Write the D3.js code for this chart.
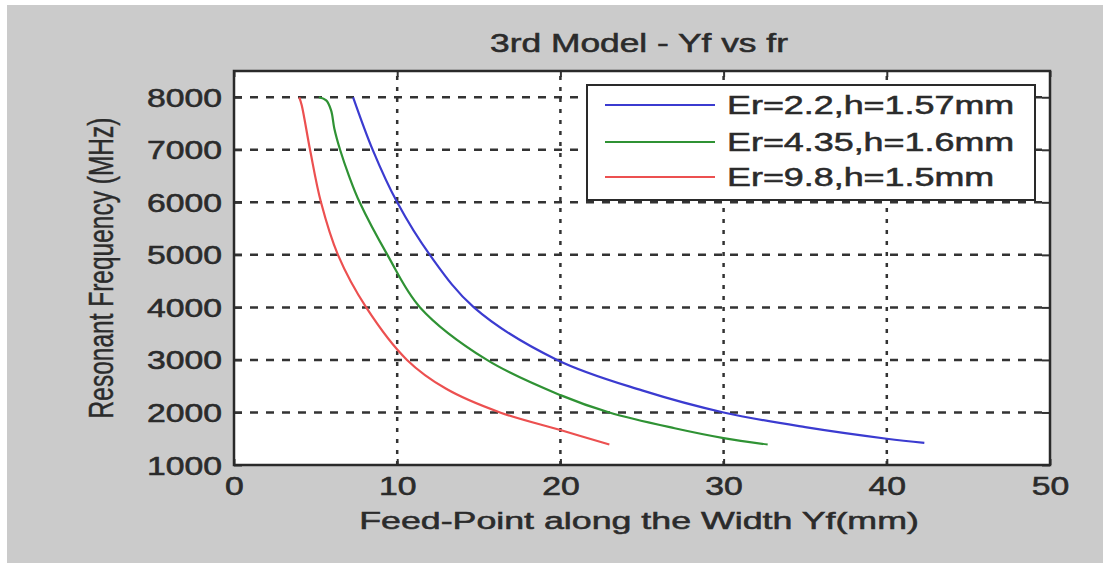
<!DOCTYPE html>
<html><head><meta charset="utf-8">
<script src="https://cdn.jsdelivr.net/npm/d3@7"></script>
<style>
body{margin:0;background:#fff}
svg{display:block}
text{font-family:"Liberation Sans",Arial,Helvetica,sans-serif;fill:#2b2b2b;stroke:#2b2b2b;stroke-width:0.55px}
</style>
</head><body>
<svg id="c" width="1103" height="565"></svg>
<script>
// ---- data ----
const titleText = "3rd Model - Yf vs fr";
const xLabel = "Feed-Point along the Width Yf(mm)";
const yLabel = "Resonant Frequency (MHz)";
const xTicks = [0, 10, 20, 30, 40, 50];
const yTicks = [1000, 2000, 3000, 4000, 5000, 6000, 7000, 8000];
const seriesNames = ["Er=2.2,h=1.57mm", "Er=4.35,h=1.6mm", "Er=9.8,h=1.5mm"];
const blueYf = [7.3, 8.5, 10, 12, 14.7, 19.8, 25, 30, 35, 40, 42.3];
const blueFr = [8000, 7000, 6000, 5000, 4000, 3000, 2420, 2000, 1720, 1500, 1420];
const greenYf = [5.2, 5.65, 5.95, 6.15, 6.5, 7.05, 7.7, 9.4, 11.4, 15.5, 20, 23, 27, 30, 32.7];
const greenFr = [8000, 7940, 7750, 7400, 7000, 6500, 6000, 5000, 4000, 3000, 2330, 2000, 1700, 1513, 1390];
const redYf = [4.0, 4.15, 4.66, 5.33, 6.37, 8.1, 10.6, 13, 16.3, 20, 23];
const redFr = [8000, 7850, 7000, 6000, 5000, 4000, 3000, 2450, 2000, 1665, 1390];

const series = [
  {name: seriesNames[0], xs: blueYf, ys: blueFr, color: "#3b3bd0"},
  {name: seriesNames[1], xs: greenYf, ys: greenFr, color: "#2f9234"},
  {name: seriesNames[2], xs: redYf, ys: redFr, color: "#ec5050"}
];

// ---- layout ----
const svg = d3.select("#c");
const L = 234, R = 1050, T = 71, B = 465;
const x = d3.scaleLinear().domain([0, 50]).range([L, R]);
const y = d3.scaleLinear().domain([1000, 8500]).range([B, T]);

svg.append("rect").attr("x", 7).attr("y", 5).attr("width", 1096).attr("height", 558).attr("fill", "#cbcbcb");
svg.append("rect").attr("x", L).attr("y", T).attr("width", R - L).attr("height", B - T).attr("fill", "#fff");

// grid
const grid = svg.append("g");
grid.selectAll("line.v").data(xTicks.filter(d => d > 0 && d < 50)).join("line")
  .attr("x1", d => x(d)).attr("x2", d => x(d)).attr("y1", B).attr("y2", T)
  .attr("stroke", "#333").attr("stroke-width", 2.5).attr("stroke-dasharray", "4,7");
grid.selectAll("line.h").data(yTicks.filter(d => d > 1000)).join("line")
  .attr("x1", L).attr("x2", R).attr("y1", d => y(d)).attr("y2", d => y(d))
  .attr("stroke", "#333").attr("stroke-width", 2.5).attr("stroke-dasharray", "8,8");

// curves
const line = d3.line().x(d => x(d[0])).y(d => y(d[1])).curve(d3.curveCatmullRom.alpha(0.5));
series.forEach(s => {
  svg.append("path").datum(s.xs.map((v, i) => [v, s.ys[i]]))
    .attr("d", line).attr("fill", "none").attr("stroke", s.color).attr("stroke-width", 2.2);
});

// axes
const sxT = 1.35;
const gx = svg.append("g").attr("transform", `translate(0,${B})`)
  .call(d3.axisBottom(x).tickValues(xTicks).tickSize(-6).tickPadding(12).tickFormat(d3.format("d")));
const gy = svg.append("g").attr("transform", `translate(${L},0)`)
  .call(d3.axisLeft(y).tickValues(yTicks).tickSize(-8).tickPadding(12).tickFormat(d3.format("d")));
svg.append("g").attr("transform", `translate(0,${T})`)
  .call(d3.axisTop(x).tickValues(xTicks).tickSize(-6).tickFormat(""));
svg.append("g").attr("transform", `translate(${R},0)`)
  .call(d3.axisRight(y).tickValues(yTicks).tickSize(-8).tickFormat(""));
svg.selectAll(".domain").remove();
svg.selectAll(".tick line").attr("stroke", "#333").attr("stroke-width", 2);
gx.selectAll("text").attr("y", 12).attr("dy", "0.71em").attr("font-size", 25)
  .attr("transform", `scale(${sxT},1)`);
gy.selectAll("text").attr("x", -12 / sxT).attr("dy", "0.36em").attr("font-size", 25)
  .attr("transform", `scale(${sxT},1)`);
svg.selectAll(".tick text").attr("font-family", null).attr("fill", null);

// frame
svg.append("rect").attr("x", L).attr("y", T).attr("width", R - L).attr("height", B - T)
  .attr("fill", "none").attr("stroke", "#2a2a2a").attr("stroke-width", 2.5);

// title & labels
svg.append("text").attr("transform", "translate(639,52) scale(1.36,1)")
  .attr("text-anchor", "middle").attr("font-size", 26).text(titleText);
svg.append("text").attr("transform", "translate(639,529) scale(1.46,1)")
  .attr("text-anchor", "middle").attr("font-size", 24.5).text(xLabel);
svg.append("text").attr("transform", "translate(113,268) rotate(-90) scale(1,1.4)")
  .attr("text-anchor", "middle").attr("font-size", 24.5).style("stroke-width", "0.3px").text(yLabel);

// legend
const lg = svg.append("g");
lg.append("rect").attr("x", 587).attr("y", 85).attr("width", 448).attr("height", 115)
  .attr("fill", "#fff").attr("stroke", "#2a2a2a").attr("stroke-width", 2);
const rowY = [105, 142, 177];
series.forEach((s, i) => {
  lg.append("line").attr("x1", 605).attr("x2", 715).attr("y1", rowY[i]).attr("y2", rowY[i])
    .attr("stroke", s.color).attr("stroke-width", 2.2);
  lg.append("text").attr("transform", `translate(727,${rowY[i] + 9}) scale(1.38,1)`)
    .attr("font-size", 26).text(s.name);
});
</script>
</body></html>
